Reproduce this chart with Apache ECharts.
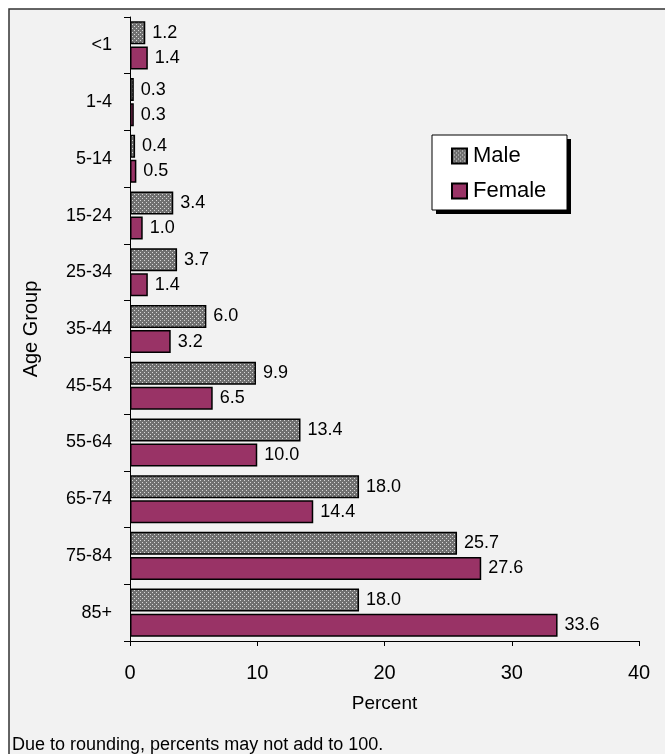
<!DOCTYPE html>
<html>
<head>
<meta charset="utf-8">
<script src="https://cdn.jsdelivr.net/npm/echarts@6/dist/echarts.min.js"></script>
<style>
  html, body { margin: 0; padding: 0; background: #fff; }
  #chart { width: 665px; height: 754px; }
</style>
</head>
<body>
<div id="chart"></div>
<script>
"use strict";

const ageGroups = ["<1", "1-4", "5-14", "15-24", "25-34", "35-44", "45-54", "55-64", "65-74", "75-84", "85+"];
const maleVals   = [1.2, 0.3, 0.4, 3.4, 3.7, 6.0, 9.9, 13.4, 18.0, 25.7, 18.0];
const femaleVals = [1.4, 0.3, 0.5, 1.0, 1.4, 3.2, 6.5, 10.0, 14.4, 27.6, 33.6];
const xTicks = [0, 10, 20, 30, 40];

/* ── 点状灰色填充 ── */
function makeDotPattern() {
  const c = document.createElement("canvas");
  c.width = 4; c.height = 4;
  const g = c.getContext("2d");
  g.fillStyle = "#707070";
  g.fillRect(0, 0, 4, 4);
  g.fillStyle = "#d8d8d8";
  g.fillRect(0, 0, 1, 1);
  g.fillRect(2, 2, 1, 1);
  return c;
}
const dotPattern = { image: makeDotPattern(), repeat: "repeat" };
const FONT = "Liberation Sans, Arial, sans-serif";

const chart = echarts.init(document.getElementById("chart"));

const labelOpt = {
  show: true, position: "right", distance: 7,
  color: "#000", fontSize: 18, fontFamily: FONT,
  formatter: p => p.value.toFixed(1)
};

chart.setOption({
  backgroundColor: "#fff",
  animation: false,
  graphic: [
    { type: "rect", z: -10, shape: { x: 9, y: 9, width: 680, height: 760 },
      style: { fill: "#f2f2f2", stroke: "#333", lineWidth: 1.5 } },
    { type: "rect", z: -5, shape: { x: 436, y: 139, width: 135, height: 75 },
      style: { fill: "#000" } },
    { type: "rect", z: -4, shape: { x: 432, y: 135, width: 135, height: 75 },
      style: { fill: "#fff", stroke: "#000", lineWidth: 1 } },
    { type: "text", left: 12, top: 736,
      style: { text: "Due to rounding, percents may not add to 100.", fontSize: 18, fontFamily: FONT, fill: "#000" } }
  ],
  legend: {
    data: ["Male", "Female"],
    orient: "vertical",
    left: 451, top: 145, padding: 0,
    icon: "rect",
    itemWidth: 15, itemHeight: 15, itemGap: 13,
    textStyle: { fontSize: 22, fontFamily: FONT, color: "#000", padding: [0, 0, 0, 1] }
  },
  grid: { left: 130, right: 26, top: 17, bottom: 113 },
  xAxis: {
    type: "value", min: 0, max: 40, interval: 10,
    name: "Percent", nameLocation: "middle", nameGap: 53,
    nameTextStyle: { fontSize: 19, fontFamily: FONT, color: "#000" },
    axisLine: { show: true, lineStyle: { color: "#000", width: 1 } },
    axisTick: { show: true, length: 5, lineStyle: { color: "#000" } },
    axisLabel: { fontSize: 20, fontFamily: FONT, color: "#000", margin: 22,
      formatter: v => xTicks.includes(v) ? String(v) : "" },
    splitLine: { show: false }
  },
  yAxis: {
    type: "category", data: ageGroups, inverse: true,
    name: "Age Group", nameLocation: "middle", nameGap: 89, nameRotate: 90,
    nameTextStyle: { fontSize: 20, fontFamily: FONT, color: "#000" },
    axisLine: { show: true, lineStyle: { color: "#000", width: 1 } },
    axisTick: { show: true, length: 6, lineStyle: { color: "#000" } },
    axisLabel: { fontSize: 18, fontFamily: FONT, color: "#000", margin: 18 }
  },
  series: [
    {
      name: "Male", type: "bar", data: maleVals,
      barWidth: 23, barGap: "9%",
      itemStyle: { color: dotPattern, borderColor: "#000", borderWidth: 1.5 },
      label: labelOpt
    },
    {
      name: "Female", type: "bar", data: femaleVals,
      barWidth: 23,
      itemStyle: { color: "#993366", borderColor: "#000", borderWidth: 1.5 },
      label: labelOpt
    }
  ]
});
</script>
</body>
</html>
